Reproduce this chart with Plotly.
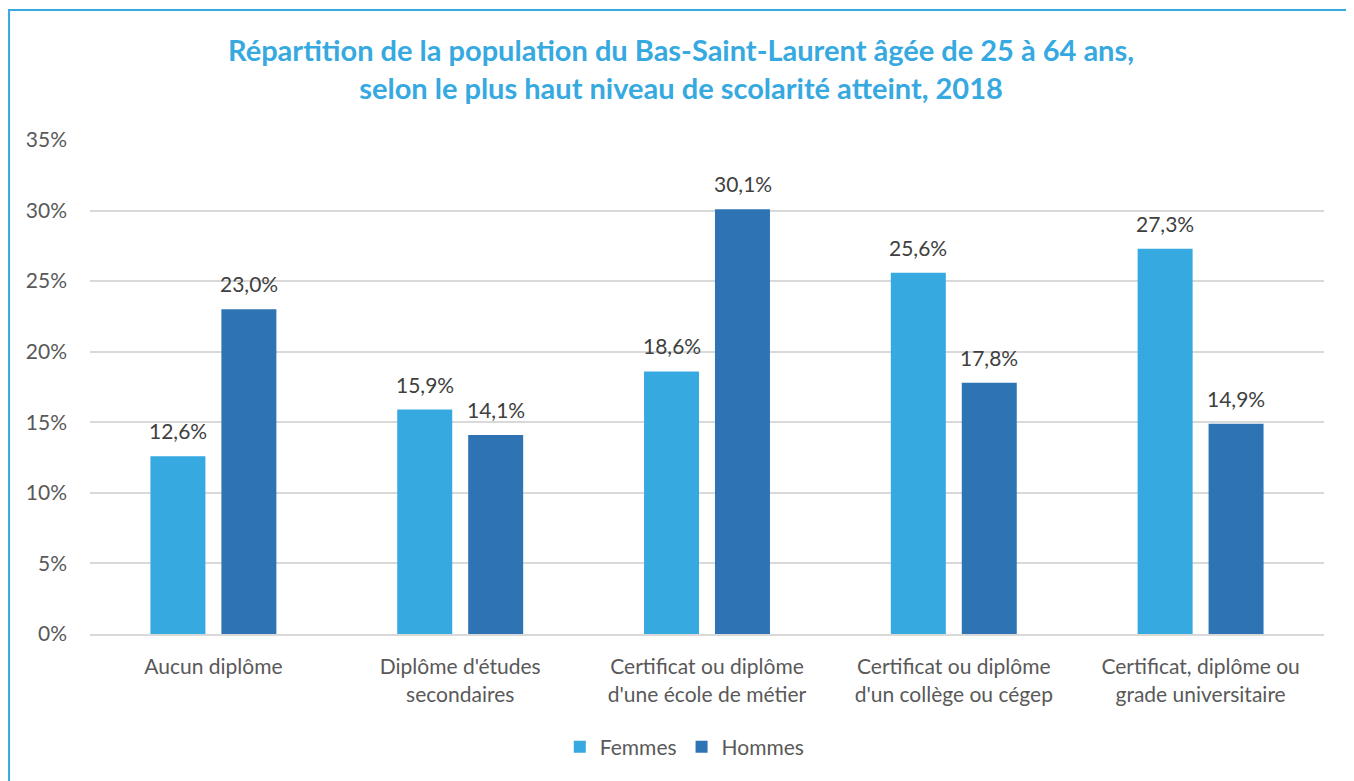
import plotly.graph_objects as go

# ── Data ──────────────────────────────────────────────────────────────────────
categories = [
    "Aucun diplôme",
    "Diplôme d'études<br>secondaires",
    "Certificat ou diplôme<br>d'une école de métier",
    "Certificat ou diplôme<br>d'un collège ou cégep",
    "Certificat, diplôme ou<br>grade universitaire",
]
femmes = [12.6, 15.9, 18.6, 25.6, 27.3]
hommes = [23.0, 14.1, 30.1, 17.8, 14.9]
y_ticks = [0, 5, 10, 15, 20, 25, 30, 35]
y_tick_labels = [f"{v}%" for v in y_ticks]

title_text = (
    "<b>Répartition de la population du Bas-Saint-Laurent âgée de 25 à 64 ans,<br>"
    "selon le plus haut niveau de scolarité atteint, 2018</b>"
)

FONT = "Lato, 'Open Sans', sans-serif"
FS = 21
label_color = "#404040"
text_color = "#595959"

fig = go.Figure()

series = [
    ("Femmes", femmes, "#36A9E1", -35.5),
    ("Hommes", hommes, "#2E74B5", 35.5),
]

for name, values, color, shift in series:
    fig.add_trace(
        go.Bar(
            x=categories,
            y=values,
            name=name,
            marker=dict(color=color, line=dict(width=0)),
            hoverinfo="x+y+name",
        )
    )
    # value labels above the bars (French decimal comma)
    for cat, v in zip(categories, values):
        fig.add_annotation(
            x=cat,
            y=v,
            xref="x",
            yref="y",
            text=f"{v:.1f}".replace(".", ",") + "%",
            showarrow=False,
            xshift=shift,
            yshift=11,
            yanchor="bottom",
            font=dict(size=FS, color=label_color, family=FONT),
        )

# Frame around the whole chart
fig.add_shape(
    type="rect",
    xref="paper", yref="paper",
    x0=-0.0656, x1=1.0227, y0=-0.33, y1=1.263,
    line=dict(color="#36A9E1", width=2),
    fillcolor="rgba(0,0,0,0)",
    layer="below",
)

fig.update_layout(
    width=1346,
    height=773,
    margin=dict(l=82, r=30, t=132, b=147),
    paper_bgcolor="white",
    plot_bgcolor="white",
    barmode="group",
    bargap=0.425,
    bargroupgap=0.225,
    title=dict(
        text=title_text,
        x=0.5,
        xanchor="center",
        y=0.931,
        yanchor="middle",
        font=dict(size=29, color="#36A9E1", family=FONT),
    ),
    font=dict(family=FONT, size=FS, color=text_color),
    xaxis=dict(
        tickfont=dict(size=FS, color=text_color),
        showgrid=False,
        showline=True,
        linecolor="#D9D9D9",
        linewidth=2,
        ticks="",
        ticklabelstandoff=13,
    ),
    yaxis=dict(
        range=[0, 35],
        tickvals=y_ticks,
        ticktext=y_tick_labels,
        tickfont=dict(size=FS, color=text_color),
        showgrid=True,
        gridcolor="#D9D9D9",
        gridwidth=1.5,
        zeroline=False,
        ticks="",
        ticklabelstandoff=22,
    ),
    legend=dict(
        orientation="h",
        x=0.482,
        xanchor="center",
        y=-0.229,
        yanchor="middle",
        font=dict(size=FS, color=text_color),
        itemwidth=30,
    ),
    showlegend=True,
)

fig.write_html("out.html")
